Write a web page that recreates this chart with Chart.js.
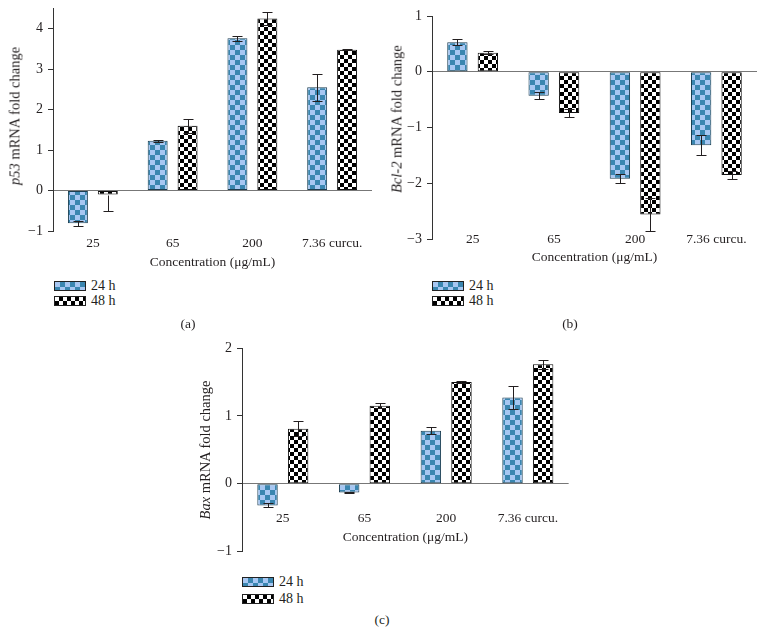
<!DOCTYPE html>
<html>
<head>
<meta charset="utf-8">
<script src="https://cdn.jsdelivr.net/npm/chart.js@4"></script>
<style>
body { margin: 0; background: #fff; width: 764px; height: 635px; position: relative; overflow: hidden;
       font-family: "Liberation Serif", "DejaVu Serif", serif; color: #231f20; }
canvas { position: absolute; }
.ytitle { position: absolute; font-size: 14.5px; white-space: nowrap; transform: translate(-50%, -50%) rotate(-90deg); }
.row { position: absolute; font-size: 14px; height: 15px; line-height: 15px; display: flex; align-items: center; }
.sw { width: 30px; height: 8px; border: 1px solid #222; margin-right: 5px; }
.s24 { background: repeating-conic-gradient(#3a86b0 0 25%, #a7c7f2 0 50%) 0 0 / 10px 10px; }
.s48 { background: repeating-conic-gradient(#000 0 25%, #fff 0 50%) 0 0 / 8px 8px; }
.tag { position: absolute; font-size: 13.5px; transform: translate(-50%, -50%); }
</style>
</head>
<body>
<canvas id="p53" width="380" height="280" style="left:0;top:-5px"></canvas>
<canvas id="bcl2" width="384" height="275" style="left:380px;top:0"></canvas>
<canvas id="bax" width="395" height="245" style="left:190px;top:320px"></canvas>

<div class="ytitle" style="left:15px;top:116px"><i>p53</i> mRNA fold change</div>
<div class="ytitle" style="left:397px;top:119px"><i>Bcl-2</i> mRNA fold change</div>
<div class="ytitle" style="left:205px;top:450px"><i>Bax</i> mRNA fold change</div>

<div class="row" style="left:54px;top:278px"><span class="sw s24"></span>24 h</div>
<div class="row" style="left:54px;top:293px"><span class="sw s48"></span>48 h</div>
<div class="row" style="left:432px;top:278px"><span class="sw s24"></span>24 h</div>
<div class="row" style="left:432px;top:293px"><span class="sw s48"></span>48 h</div>
<div class="row" style="left:242px;top:574px"><span class="sw s24"></span>24 h</div>
<div class="row" style="left:242px;top:591px"><span class="sw s48"></span>48 h</div>

<div class="tag" style="left:188px;top:324px">(a)</div>
<div class="tag" style="left:570px;top:324px">(b)</div>
<div class="tag" style="left:382px;top:620px">(c)</div>

<script>
const categories = ['25', '65', '200', '7.36 curcu.'];

// p53 fold change
const p53_24h = [-0.81, 1.23, 3.76, 2.55];
const p53_48h = [-0.10, 1.60, 4.25, 3.48];
const p53_24hErr = [0.06, 0.03, 0.07, 0.34];
const p53_48hErr = [[0.41, 0], 0.17, 0.15, 0.02];

// Bcl-2 fold change
const bcl2_24h = [0.53, -0.43, -1.92, -1.32];
const bcl2_48h = [0.34, -0.74, -2.56, -1.85];
const bcl2_24hErr = [0.05, 0.06, 0.08, 0.18];
const bcl2_48hErr = [0.03, 0.08, 0.29, 0.07];

// Bax fold change
const bax_24h = [-0.32, -0.13, 0.78, 1.27];
const bax_48h = [0.81, 1.15, 1.50, 1.76];
const bax_24hErr = [0.03, 0.01, 0.05, 0.17];
const bax_48hErr = [0.11, 0.04, 0.02, 0.07];

const ink = '#231f20';
const tickFont = { family: '"Liberation Serif", serif', size: 14 };
const labelFont = { family: '"Liberation Serif", serif', size: 13.5 };

function checker(ctx, c1, c2, size) {
    let cv = document.createElement('canvas');
    cv.width = cv.height = size * 2;
    let g = cv.getContext('2d');
    g.fillStyle = c2;
    g.fillRect(0, 0, size * 2, size * 2);
    g.fillStyle = c1;
    g.fillRect(0, 0, size, size);
    g.fillRect(size, size, size, size);
    return ctx.createPattern(cv, 'repeat');
}

// draws the error bars on top of the bars
const errorBars = {
    id: 'errorBars',
    afterDatasetsDraw(chart) {
        let ctx = chart.ctx, y = chart.scales.y;
        ctx.save();
        ctx.strokeStyle = ink;
        ctx.lineWidth = 1;
        chart.data.datasets.forEach((ds, i) => {
            chart.getDatasetMeta(i).data.forEach((bar, j) => {
                let e = ds.errors[j];
                let [dn, up] = Array.isArray(e) ? e : [e, e];
                let v = ds.data[j];
                let x = Math.round(bar.x) + 0.5;
                let yHi = Math.round(y.getPixelForValue(v + up)) + 0.5;
                let yLo = Math.round(y.getPixelForValue(v - dn)) + 0.5;
                ctx.beginPath();
                ctx.moveTo(x, yHi);
                ctx.lineTo(x, yLo);
                if (up) { ctx.moveTo(x - 5, yHi); ctx.lineTo(x + 5, yHi); }
                if (dn) { ctx.moveTo(x - 5, yLo); ctx.lineTo(x + 5, yLo); }
                ctx.stroke();
            });
        });
        ctx.restore();
    }
};

function makeChart(id, d24, d48, e24, e48, yMin, yMax, padding, xAxis) {
    let canvas = document.getElementById(id);
    let ctx = canvas.getContext('2d');
    return new Chart(canvas, {
        type: 'bar',
        data: {
            labels: categories,
            datasets: [{
                label: '24 h',
                data: d24,
                errors: e24,
                backgroundColor: checker(ctx, '#3a86b0', '#a7c7f2', 5),
                borderColor: '#1d3f52',
                borderWidth: 1,
                borderSkipped: false
            }, {
                label: '48 h',
                data: d48,
                errors: e48,
                backgroundColor: checker(ctx, '#000', '#fff', 4),
                borderColor: '#111',
                borderWidth: 1,
                borderSkipped: false
            }]
        },
        options: {
            responsive: false,
            animation: false,
            layout: { padding: padding },
            categoryPercentage: 0.75,
            barPercentage: 0.667,
            plugins: { legend: { display: false }, tooltip: { enabled: false } },
            scales: {
                x: {
                    position: xAxis.position,
                    grid: { display: false, drawTicks: false },
                    border: { display: false },
                    ticks: { font: labelFont, color: ink, padding: xAxis.padding },
                    title: { display: true, text: 'Concentration (\u03bcg/mL)', font: labelFont, color: ink, padding: { top: 4, bottom: 4 } },
                    afterFit: s => { s.height = xAxis.height; }
                },
                y: {
                    min: yMin,
                    max: yMax,
                    border: { display: true, color: '#333' },
                    grid: {
                        color: c => c.tick && c.tick.value === 0 ? '#777' : 'rgba(0,0,0,0)',
                        tickColor: '#333',
                        tickLength: 5
                    },
                    ticks: {
                        stepSize: 1,
                        includeBounds: false,
                        font: tickFont,
                        color: ink,
                        padding: 5,
                        callback: v => String(v).replace('-', '\u2212')
                    },
                    afterFit: s => { s.width = padding.yWidth; }
                }
            }
        },
        plugins: [errorBars]
    });
}

makeChart('p53', p53_24h, p53_48h, p53_24hErr, p53_48hErr, -1, 4.5,
    { top: 4, right: 8, left: 0, bottom: 0, yWidth: 53 },
    { position: 'bottom', padding: 4, height: 44 });

makeChart('bcl2', bcl2_24h, bcl2_48h, bcl2_24hErr, bcl2_48hErr, -3, 1,
    { top: 16, right: 7, left: 0, bottom: 36, yWidth: 52 },
    { position: { y: -3 }, padding: -8, height: 31 });

makeChart('bax', bax_24h, bax_48h, bax_24hErr, bax_48hErr, -1, 2,
    { top: 28, right: 0, left: 0, bottom: 0, yWidth: 52 },
    { position: { y: 0 }, padding: 27, height: 66 });
</script>
</body>
</html>
